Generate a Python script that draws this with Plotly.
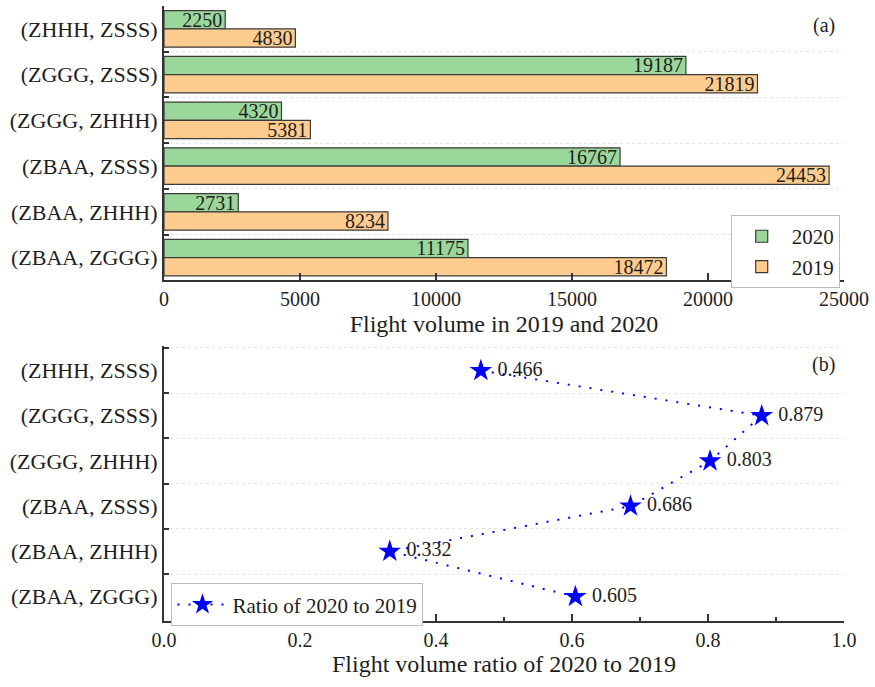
import plotly.graph_objects as go

# Hub pairs, listed top to bottom
pairs = ["(ZHHH, ZSSS)", "(ZGGG, ZSSS)", "(ZGGG, ZHHH)",
         "(ZBAA, ZSSS)", "(ZBAA, ZHHH)", "(ZBAA, ZGGG)"]
flights_2020 = [2250, 19187, 4320, 16767, 2731, 11175]
flights_2019 = [4830, 21819, 5381, 24453, 8234, 18472]
ratio = [0.466, 0.879, 0.803, 0.686, 0.332, 0.605]

FONT = "Liberation Serif, Times New Roman, serif"
GREEN = "#9BD69B"
ORANGE = "#FFCC90"
EDGE = "#3a3a3a"
AXIS = "#333333"
TEXT = "#1e1e1e"

fig = go.Figure()

# (a) grouped horizontal bars
fig.add_trace(go.Bar(
    y=pairs, x=flights_2020, orientation="h", name="2020",
    marker=dict(color=GREEN, line=dict(color=EDGE, width=1.2)),
    text=[str(v) for v in flights_2020], textposition="inside",
    insidetextanchor="end", constraintext="none",
    textfont=dict(family=FONT, size=20, color=TEXT),
    xaxis="x", yaxis="y", legend="legend",
))
fig.add_trace(go.Bar(
    y=pairs, x=flights_2019, orientation="h", name="2019",
    marker=dict(color=ORANGE, line=dict(color=EDGE, width=1.2)),
    text=[str(v) for v in flights_2019], textposition="inside",
    insidetextanchor="end", constraintext="none",
    textfont=dict(family=FONT, size=20, color=TEXT),
    xaxis="x", yaxis="y", legend="legend",
))

# (b) ratio of 2020 to 2019
fig.add_trace(go.Scatter(
    y=pairs, x=ratio, mode="lines+markers+text", name="Ratio of 2020 to 2019",
    line=dict(color="#0000FF", width=2, dash="2px,9px"),
    marker=dict(symbol="star", size=17, color="#0000FF"),
    text=["\u00a0" + f"{v:.3f}" for v in ratio], textposition="middle right",
    textfont=dict(family=FONT, size=20, color=TEXT),
    xaxis="x2", yaxis="y2", legend="legend2",
))

yaxis_common = dict(
    type="category", categoryorder="array", categoryarray=pairs,
    autorange="reversed", tickson="boundaries",
    ticks="inside", ticklen=5, tickwidth=1.5, tickcolor=AXIS,
    showline=True, linecolor=AXIS, linewidth=2,
    showgrid=True, gridcolor="#e4e4e4", griddash="dot", gridwidth=1,
    tickfont=dict(family=FONT, size=22, color=TEXT),
    zeroline=False,
)
xaxis_common = dict(
    ticks="inside", ticklen=7, tickwidth=1.5, tickcolor=AXIS,
    showline=True, linecolor=AXIS, linewidth=2,
    showgrid=False, zeroline=False,
    tickfont=dict(family=FONT, size=20, color=TEXT),
    title_font=dict(family=FONT, size=24, color=TEXT),
)

fig.update_layout(
    width=875, height=687,
    margin=dict(l=164, r=31, t=6, b=66),
    paper_bgcolor="white", plot_bgcolor="white",
    barmode="group", bargap=0.2, bargroupgap=0,
    font=dict(family=FONT, size=20, color=TEXT),
    xaxis=dict(xaxis_common, anchor="y", domain=[0, 1],
               range=[0, 25000], dtick=5000, tick0=0, tickformat="d",
               title=dict(text="Flight volume in 2019 and 2020", standoff=6)),
    yaxis=dict(yaxis_common, anchor="x", domain=[0.5537, 1.0]),
    xaxis2=dict(xaxis_common, anchor="y2", domain=[0, 1],
                range=[0, 1], dtick=0.2, tick0=0, tickformat=".1f",
                minor=dict(dtick=0.1, ticks="inside", ticklen=4,
                           tickcolor=AXIS, tickwidth=1.5),
                title=dict(text="Flight volume ratio of 2020 to 2019", standoff=5)),
    yaxis2=dict(yaxis_common, anchor="x2", domain=[0, 0.4468]),
    legend=dict(x=0.9937, xanchor="right", y=0.66, yanchor="top",
                bgcolor="white", bordercolor="#bbbbbb", borderwidth=1,
                font=dict(family=FONT, size=21, color=TEXT),
                itemwidth=50, tracegroupgap=0),
    legend2=dict(x=0.011, xanchor="left", y=0.0614, yanchor="top",
                 bgcolor="white", bordercolor="#bbbbbb", borderwidth=1,
                 font=dict(family=FONT, size=21, color=TEXT),
                 itemwidth=50),
    showlegend=True,
    annotations=[
        dict(text="(a)", xref="x domain", yref="y domain", x=0.99, y=0.93,
             xanchor="right", yanchor="middle", showarrow=False,
             font=dict(family=FONT, size=20, color=TEXT)),
        dict(text="(b)", xref="x2 domain", yref="y2 domain", x=0.99, y=0.935,
             xanchor="right", yanchor="middle", showarrow=False,
             font=dict(family=FONT, size=20, color=TEXT)),
    ],
)

fig.write_html("out.html")
